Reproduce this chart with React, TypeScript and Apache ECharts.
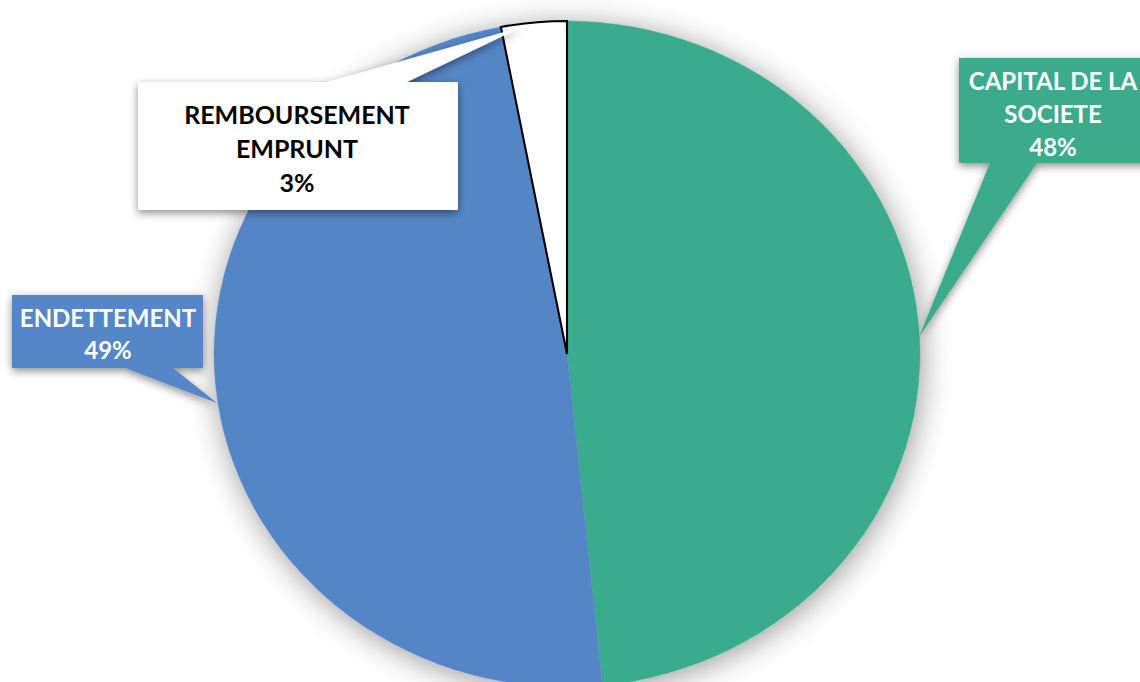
import React, { useEffect, useRef } from "react";
import * as echarts from "echarts";

const categories = ["CAPITAL DE LA\nSOCIETE", "ENDETTEMENT", "REMBOURSEMENT\nEMPRUNT"];
const values = [48.4, 48.6, 3.0];
const colors = ["#3AAB8C", "#5486C7", "#FFFFFF"];
const textColors = ["#FFFFFF", "#FFFFFF", "#000000"];

const CX = 567;
const CY = 354;
const RX = 353;
const RY = 333;

export default function App() {
  const ref = useRef<HTMLDivElement>(null);
  useEffect(() => {
    if (!ref.current) return;
    const chart = echarts.init(ref.current, null, { renderer: "svg" });
    const total = values.reduce((a, b) => a + b, 0);
    const starts: number[] = [];
    let acc = 0;
    values.forEach((v) => {
      starts.push(acc);
      acc += v;
    });
    const pcts = values.map((v) => Math.round((v / total) * 100) + "%");

    const font = "Lato, 'Open Sans', sans-serif";
    const shadow = {
      shadowBlur: 8,
      shadowOffsetX: 0,
      shadowOffsetY: 3,
      shadowColor: "rgba(0,0,0,0.45)",
    };

    const callouts = [
      {
        points: [[959, 58], [1160, 58], [1160, 163], [1037, 163], [919, 337], [990, 163], [959, 163]],
        tx: 1053, ty: 113, fs: 24, lh: 33,
      },
      {
        points: [[12, 295], [203, 295], [203, 368], [173, 368], [217, 403], [125, 368], [12, 368]],
        tx: 108, ty: 333, fs: 24, lh: 32,
      },
      {
        points: [[138, 82], [327, 82], [522, 27], [407, 82], [458, 82], [458, 210], [138, 210]],
        tx: 297, ty: 148, fs: 25, lh: 34,
      },
    ];

    const graphic: any[] = [
      {
        type: "ellipse",
        z: 0,
        shape: { cx: CX, cy: CY, rx: RX, ry: RY },
        style: { fill: "#ffffff", shadowBlur: 30, shadowOffsetX: 2, shadowOffsetY: 4, shadowColor: "rgba(0,0,0,0.4)" },
      },
    ];
    callouts.forEach((c, i) => {
      graphic.push({
        type: "polygon",
        z: 100,
        shape: { points: c.points },
        style: { fill: colors[i], ...shadow },
      });
      graphic.push({
        type: "text",
        z: 101,
        style: {
          text: categories[i] + "\n" + pcts[i],
          x: c.tx,
          y: c.ty,
          align: "center",
          verticalAlign: "middle",
          fill: textColors[i],
          fontFamily: font,
          fontWeight: "bold",
          fontSize: c.fs,
          lineHeight: c.lh,
        },
      });
    });

    chart.setOption({
      animation: false,
      graphic,
      series: [
        {
          type: "custom",
          coordinateSystem: "none",
          z: 10,
          data: values.map((v, i) => ({ value: [v, i], name: categories[i] })),
          renderItem: (params: any, api: any) => {
            const i = params.dataIndex;
            const a0 = -Math.PI / 2 + (starts[i] / total) * Math.PI * 2;
            const a1 = -Math.PI / 2 + ((starts[i] + values[i]) / total) * Math.PI * 2;
            const isWhite = i === 2;
            return {
              type: "sector",
              x: CX,
              y: CY,
              scaleX: RX / RY,
              scaleY: 1,
              shape: { cx: 0, cy: 0, r: RY, r0: 0, startAngle: a0, endAngle: a1, clockwise: true },
              style: {
                fill: colors[i],
                stroke: isWhite ? "#000000" : colors[i],
                lineWidth: isWhite ? 2 : 0.5,
              },
            };
          },
        },
      ],
    });
    return () => chart.dispose();
  }, []);
  return (
    <div
      ref={ref}
      style={{ position: "fixed", left: 0, top: 0, width: 1140, height: 682, background: "#fff" }}
    />
  );
}
